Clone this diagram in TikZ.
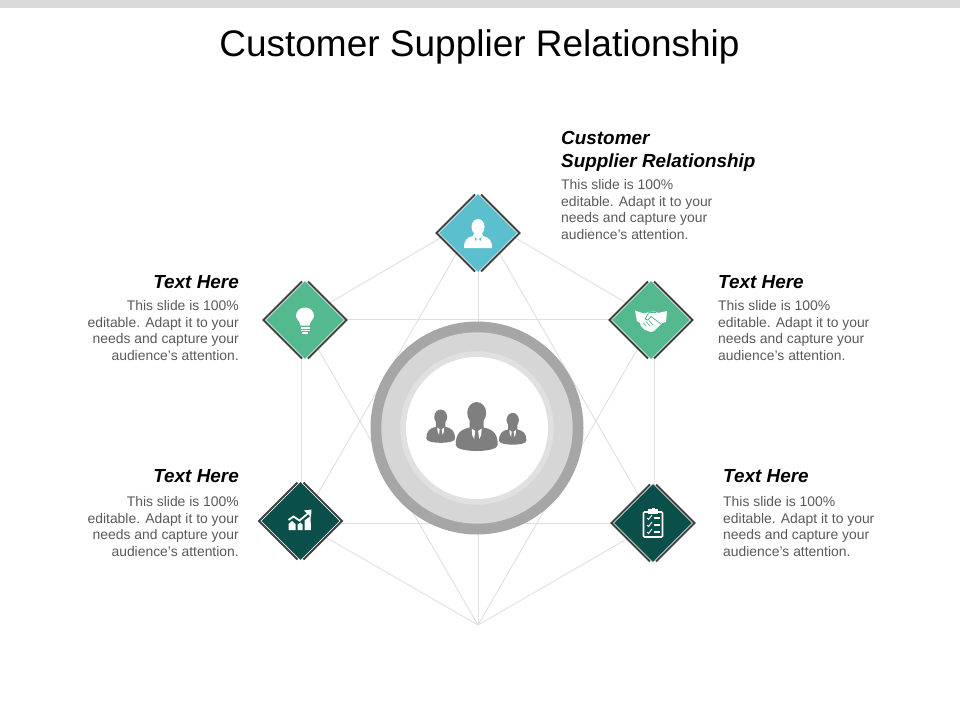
\documentclass[tikz,border=0pt]{standalone}
\usepackage{fontspec}
\setmainfont{Liberation Sans}
\usetikzlibrary{shapes.geometric,calc}
\definecolor{teal1}{HTML}{5CBFCD}
\definecolor{green1}{HTML}{55B98F}
\definecolor{dark1}{HTML}{0B4F4A}
\definecolor{edge1}{HTML}{404040}
\definecolor{web1}{HTML}{DFDFDF}
\definecolor{bar1}{HTML}{DADADA}
\definecolor{body1}{HTML}{595959}
\definecolor{bust1}{HTML}{7F7F7F}
\tikzset{
 web/.style={draw=web1,line width=0.9pt},
 tile/.style={diamond,aspect=1,minimum size=78pt,inner sep=0pt,draw=none},
 rim/.style={draw=edge1,line width=2pt,line join=miter},
 head/.style={inner sep=0pt,font=\fontsize{18.9}{23}\selectfont\bfseries\itshape,text=black},
 copytext/.style={inner sep=0pt,font=\fontsize{13.9}{16.7}\selectfont,text=body1},
 ico/.style={fill=white,draw=none},
}
\newcommand{\hub}[4]{%
 \node[tile,fill=#4] (#1) at (#2,#3) {};
 \draw[rim] ($(#1.center)+(-3,-38.5)$) -- ($(#1.center)+(-41.5,0)$) -- ($(#1.center)+(-3,38.5)$);
 \draw[rim] ($(#1.center)+(3,-38.5)$) -- ($(#1.center)+(41.5,0)$) -- ($(#1.center)+(3,38.5)$);
}
\newcommand{\bust}[3]{% x, y of head centre, scale
 \begin{scope}[shift={(#1,#2)},scale=#3]
  \fill[bust1] (0,0) ellipse (9.5 and 11);
  \fill[bust1] (-7,7) -- (7,7) -- (7,14.5) .. controls (16,16.5) and (21,20) .. (21,32) .. controls (21,36) and (10,38) .. (0,38) .. controls (-10,38) and (-21,36) .. (-21,32) .. controls (-21,20) and (-16,16.5) .. (-7,14.5) -- cycle;
  \fill[white] (-5,15.5) -- (-1.5,18) -- (-2.5,26) -- (-4.5,22) -- cycle;
  \fill[white] (5,15.5) -- (1.5,18) -- (2.5,26) -- (4.5,22) -- cycle;
 \end{scope}
}
\begin{document}
\begin{tikzpicture}[x=1pt,y=-1pt]
\useasboundingbox (0,0) rectangle (960,720);
\fill[bar1] (0,0) rectangle (960,8);
\node[inner sep=0pt,font=\fontsize{37}{40}\selectfont,text=black] (title) at (479.5,47) {Customer Supplier Relationship};
% web vertices
\coordinate (vT) at (478,216);
\coordinate (vB) at (478,625);
\coordinate (vUL) at (301,319.5);
\coordinate (vUR) at (654.5,319.5);
\coordinate (vLL) at (301,523);
\coordinate (vLR) at (654.5,523);
\coordinate (hubC) at (477,428);
\draw[web] (vT) -- (vUL) -- (vUR) -- cycle;
\draw[web] (vUL) -- (vLL) -- (vLR) -- (vUR);
\draw[web] (vT) -- (vLL);
\draw[web] (vT) -- (vLR);
\draw[web] (vB) -- (vUL);
\draw[web] (vB) -- (vUR);
\draw[web] (vB) -- (vLL);
\draw[web] (vB) -- (vLR);
\draw[web] (vT) -- (vB);
% ring
\fill[fill=black!35] (hubC) circle (106.5);
\fill[fill=black!16] (hubC) circle (95.7);
\fill[fill=black!12] (hubC) circle (76.7);
\fill[white] (hubC) circle (71);
\bust{440.7}{417}{0.68}
\bust{512.7}{420}{0.65}
\bust{476.7}{413}{1}
% hubs
\hub{dT}{478}{233}{teal1}
\hub{dL}{305}{320}{green1}
\hub{dR}{651}{320}{green1}
\hub{dLL}{300.5}{521}{dark1}
\hub{dLR}{653}{523}{dark1}
% person icon
\begin{scope}[shift={(dT.center)}]
 \fill[ico] (0,-6) ellipse (6.5 and 8);
 \fill[ico] (-4,0) -- (4,0) -- (5,3) .. controls (11,4.5) and (14,7) .. (14,15) -- (-14,15) .. controls (-14,7) and (-11,4.5) .. (-5,3) -- cycle;
 \fill[teal1] (-3.5,4) -- (-1,6) -- (-2.5,8) -- cycle;
 \fill[teal1] (3.5,4) -- (1,6) -- (2.5,8) -- cycle;
\end{scope}
% bulb icon
\begin{scope}[shift={(dL.center)}]
 \fill[ico] (-4.5,5.5) .. controls (-5,1) and (-9,-1) .. (-9,-4) .. controls (-9,-9) and (-5,-12.5) .. (0,-12.5) .. controls (5,-12.5) and (9,-9) .. (9,-4) .. controls (9,-1) and (5,1) .. (4.5,5.5) -- cycle;
 \fill[ico] (-4.5,7) rectangle (4.5,8.5);
 \fill[ico] (-4.5,9.8) rectangle (4.5,11.2);
 \fill[ico] (-3,12.4) rectangle (3,13.6);
\end{scope}
% handshake icon
\begin{scope}[shift={(dR.center)}]
 \fill[ico] (-16,-9.5) -- (-7,-6.5) -- (-2,-8) -- (4,-8.5) -- (7,-7) -- (16,-9) -- (15,2) -- (11,3) -- (3,11) .. controls (1,13) and (-1,12) .. (-3,11) .. controls (-6,11) and (-7,9) .. (-8,8) .. controls (-10,7) and (-11,5) .. (-11,3) -- (-14,1) -- cycle;
 \draw[green1,line width=0.8pt,line join=round] (5,-7.5) -- (-2,-7.5) -- (-6,-1) -- (-3,0) -- (0,-3.5) -- (10,4);
 \draw[green1,line width=0.7pt] (-8,3) -- (-5,6) (-5,1.5) -- (-1,6) (-2,0.5) -- (2,5);
\end{scope}
% chart icon
\begin{scope}[shift={(dLL.center)}]
 \fill[ico] (-12,9) -- (-12,3) -- (-8.5,0) -- (-5,3) -- (-5,9) -- cycle;
 \fill[ico] (-3,9) -- (-3,3.5) -- (0,1.5) -- (2,3.5) -- (2,9) -- cycle;
 \fill[ico] (4,9) -- (4,-0.5) -- (10,-5) -- (10.5,9) -- cycle;
 \draw[white,line width=1.8pt] (-12,-1) -- (-7,-4.5) -- (-1,-0.5) -- (8,-8);
 \fill[ico] (3.5,-10.5) -- (11,-11.5) -- (10.5,-4) -- cycle;
\end{scope}
% clipboard icon
\begin{scope}[shift={(dLR.center)}]
 \draw[white,line width=1.6pt,rounded corners=1pt] (-9.5,-11) rectangle (9.5,14);
 \fill[ico] (-5,-14) rectangle (5,-9.5);
 \fill[ico] (-1.5,-15.5) rectangle (1.5,-13);
 \foreach \yy in {-5,2,9}{
  \draw[white,line width=0.9pt] (-6,\yy) -- (-4.5,\yy+1.5) -- (-1,\yy-3);
  \draw[white,line width=1.4pt] (0.5,\yy) -- (6.5,\yy);
 }
\end{scope}
% text
\node[head,anchor=base west,align=left] (h1) at (561,167.5) {Customer\\Supplier Relationship};
\node[copytext,anchor=base west,align=left] (b1) at (561,239.5) {This slide is 100\%\\editable. Adapt it to your\\needs and capture your\\audience's attention.};
\node[head,anchor=base east] (h2) at (239,288) {Text Here};
\node[copytext,anchor=base east,align=right] (b2) at (239,360.5) {This slide is 100\%\\editable. Adapt it to your\\needs and capture your\\audience's attention.};
\node[head,anchor=base west] (h3) at (718,288) {Text Here};
\node[copytext,anchor=base west,align=left] (b3) at (718,360.5) {This slide is 100\%\\editable. Adapt it to your\\needs and capture your\\audience's attention.};
\node[head,anchor=base east] (h4) at (239,482) {Text Here};
\node[copytext,anchor=base east,align=right] (b4) at (239,556.5) {This slide is 100\%\\editable. Adapt it to your\\needs and capture your\\audience's attention.};
\node[head,anchor=base west] (h5) at (723,482) {Text Here};
\node[copytext,anchor=base west,align=left] (b5) at (723,556.5) {This slide is 100\%\\editable. Adapt it to your\\needs and capture your\\audience's attention.};
\end{tikzpicture}
\end{document}
